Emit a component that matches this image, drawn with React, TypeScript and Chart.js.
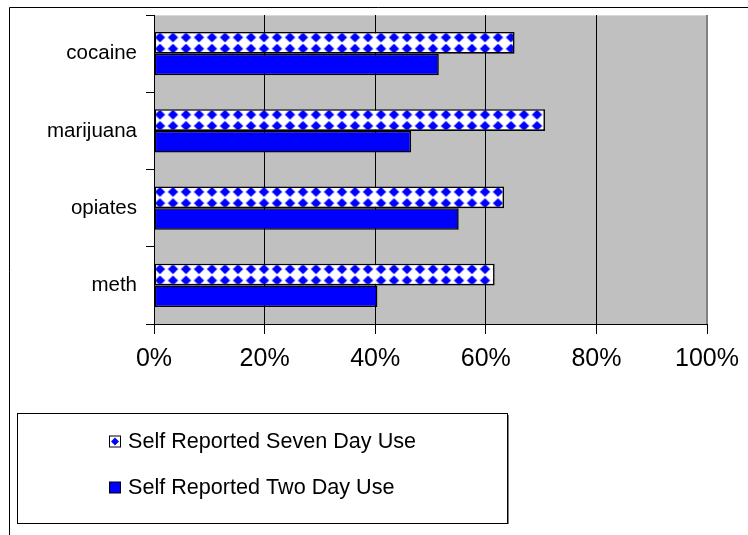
import { useEffect, useRef } from 'react';
import { Chart, registerables } from 'chart.js';

Chart.register(...registerables);

const categories = ['cocaine', 'marijuana', 'opiates', 'meth'];
const sevenDayUse = [65.2, 70.7, 63.3, 61.6];
const twoDayUse = [51.5, 46.5, 55.1, 40.4];
const seriesNames = ['Self Reported Seven Day Use', 'Self Reported Two Day Use'];
const xMin = 0;
const xMax = 100;
const xStep = 20;

const FONT = '"Liberation Sans", Arial, sans-serif';
const BLUE = '#0000FF';
const PLOT_BG = '#C0C0C0';
const CAT_PCT = 0.56;

function makeTile(): HTMLCanvasElement {
  const c = document.createElement('canvas');
  c.width = 13;
  c.height = 12;
  const g = c.getContext('2d')!;
  g.fillStyle = '#ffffff';
  g.fillRect(0, 0, 13, 12);
  g.fillStyle = BLUE;
  const cx = 6.5;
  const cy = 6;
  g.beginPath();
  g.moveTo(cx, cy - 5.3);
  g.lineTo(cx + 5.2, cy);
  g.lineTo(cx, cy + 5.3);
  g.lineTo(cx - 5.2, cy);
  g.closePath();
  g.fill();
  return c;
}

export default function App() {
  const ref = useRef<HTMLCanvasElement | null>(null);

  useEffect(() => {
    const canvas = ref.current;
    if (!canvas) return;
    const tile = makeTile();
    const sy = 11.3 / 12;

    const patternFor = (ctx: any) => {
      const chart = ctx.chart;
      const p = chart.ctx.createPattern(tile, 'repeat') as CanvasPattern;
      const y = chart.scales && chart.scales.y;
      if (y && ctx.dataIndex != null && chart.chartArea) {
        const band = y.height / categories.length;
        const top = y.getPixelForValue(ctx.dataIndex) - (band * CAT_PCT) / 2;
        p.setTransform(
          new DOMMatrix([1, 0, 0, sy, chart.chartArea.left - 0.5, top + 5.4 - 6 * sy])
        );
      }
      return p;
    };

    const decor = {
      id: 'decor',
      beforeDraw(chart: any) {
        const { ctx, chartArea: a } = chart;
        ctx.save();
        ctx.fillStyle = '#ffffff';
        ctx.fillRect(0, 0, chart.width, chart.height);
        ctx.fillStyle = PLOT_BG;
        ctx.fillRect(a.left, a.top, a.right - a.left, a.bottom - a.top);
        ctx.strokeStyle = '#000';
        ctx.lineWidth = 1;
        ctx.beginPath();
        ctx.moveTo(9.5, chart.height);
        ctx.lineTo(9.5, 7.5);
        ctx.lineTo(chart.width, 7.5);
        ctx.stroke();
        ctx.strokeStyle = '#d8d8d8';
        ctx.beginPath();
        ctx.moveTo(a.left, a.top + 0.5);
        ctx.lineTo(a.right, a.top + 0.5);
        ctx.stroke();
        ctx.restore();
      },
      afterDatasetsDraw(chart: any) {
        const { ctx, chartArea: a } = chart;
        ctx.save();
        ctx.strokeStyle = '#808080';
        ctx.lineWidth = 2;
        ctx.beginPath();
        ctx.moveTo(a.right, a.top);
        ctx.lineTo(a.right, a.bottom);
        ctx.stroke();
        ctx.restore();
      },
      afterDraw(chart: any) {
        const ctx = chart.ctx as CanvasRenderingContext2D;
        ctx.save();
        ctx.fillStyle = '#ffffff';
        ctx.fillRect(17.5, 413.5, 490, 110);
        ctx.strokeStyle = '#000';
        ctx.lineWidth = 1;
        ctx.strokeRect(17.5, 413.5, 490, 110);
        ctx.strokeStyle = '#808080';
        ctx.beginPath();
        ctx.moveTo(508.5, 415);
        ctx.lineTo(508.5, 524);
        ctx.stroke();
        const rows = [441.5, 487.5];
        chart.data.datasets.forEach((ds: any, i: number) => {
          const cy = rows[i];
          const x = 109.5;
          const top = cy - 5.5;
          if (i === 0) {
            ctx.fillStyle = '#ffffff';
            ctx.fillRect(x, top, 11, 11);
            ctx.fillStyle = BLUE;
            ctx.beginPath();
            ctx.moveTo(x + 5.5, top + 1.5);
            ctx.lineTo(x + 9.5, top + 5.5);
            ctx.lineTo(x + 5.5, top + 9.5);
            ctx.lineTo(x + 1.5, top + 5.5);
            ctx.closePath();
            ctx.fill();
          } else {
            ctx.fillStyle = BLUE;
            ctx.fillRect(x, top, 11, 11);
          }
          ctx.strokeStyle = '#000';
          ctx.lineWidth = 1;
          ctx.strokeRect(x, top, 11, 11);
          ctx.fillStyle = '#000';
          ctx.font = `21.6px ${FONT}`;
          ctx.textBaseline = 'middle';
          ctx.textAlign = 'left';
          ctx.fillText(ds.label, 128, cy + 1);
        });
        ctx.restore();
      },
    };

    const chart = new Chart(canvas, {
      type: 'bar',
      data: {
        labels: categories,
        datasets: [
          {
            label: seriesNames[0],
            data: sevenDayUse,
            backgroundColor: patternFor as any,
            borderColor: '#000000',
            borderWidth: 1.6,
            borderSkipped: false,
            categoryPercentage: CAT_PCT,
            barPercentage: 1,
          },
          {
            label: seriesNames[1],
            data: twoDayUse,
            backgroundColor: BLUE,
            borderColor: '#000000',
            borderWidth: 1.6,
            borderSkipped: false,
            categoryPercentage: CAT_PCT,
            barPercentage: 1,
          },
        ],
      },
      options: {
        indexAxis: 'y',
        responsive: false,
        animation: false,
        devicePixelRatio: 1,
        layout: { padding: { left: 0, top: 15, right: 41, bottom: 0 } },
        plugins: {
          legend: { display: false },
          tooltip: { enabled: false },
        },
        scales: {
          x: {
            min: xMin,
            max: xMax,
            afterFit: (s: any) => {
              s.height = 211;
              s.paddingLeft = 0;
              s.paddingRight = 0;
            },
            ticks: {
              stepSize: xStep,
              color: '#000',
              font: { family: FONT, size: 25 },
              padding: 10,
              callback: (v: any) => `${v}%`,
            },
            grid: {
              color: '#000',
              lineWidth: 1,
              tickLength: 10,
              drawTicks: true,
            },
            border: { color: '#000', width: 1 },
          },
          y: {
            afterFit: (s: any) => {
              s.width = 154;
              s.paddingTop = 0;
              s.paddingBottom = 0;
            },
            ticks: {
              color: '#000',
              font: { family: FONT, size: 20.5 },
              padding: 9,
            },
            grid: {
              offset: true,
              drawOnChartArea: false,
              drawTicks: true,
              tickLength: 8,
              color: '#000',
            },
            border: { color: '#000', width: 1 },
          },
        },
      },
      plugins: [decor],
    });

    return () => chart.destroy();
  }, []);

  return (
    <div style={{ position: 'absolute', left: 0, top: 0, width: 748, height: 535 }}>
      <canvas ref={ref} width={748} height={535} style={{ width: 748, height: 535 }} />
    </div>
  );
}
